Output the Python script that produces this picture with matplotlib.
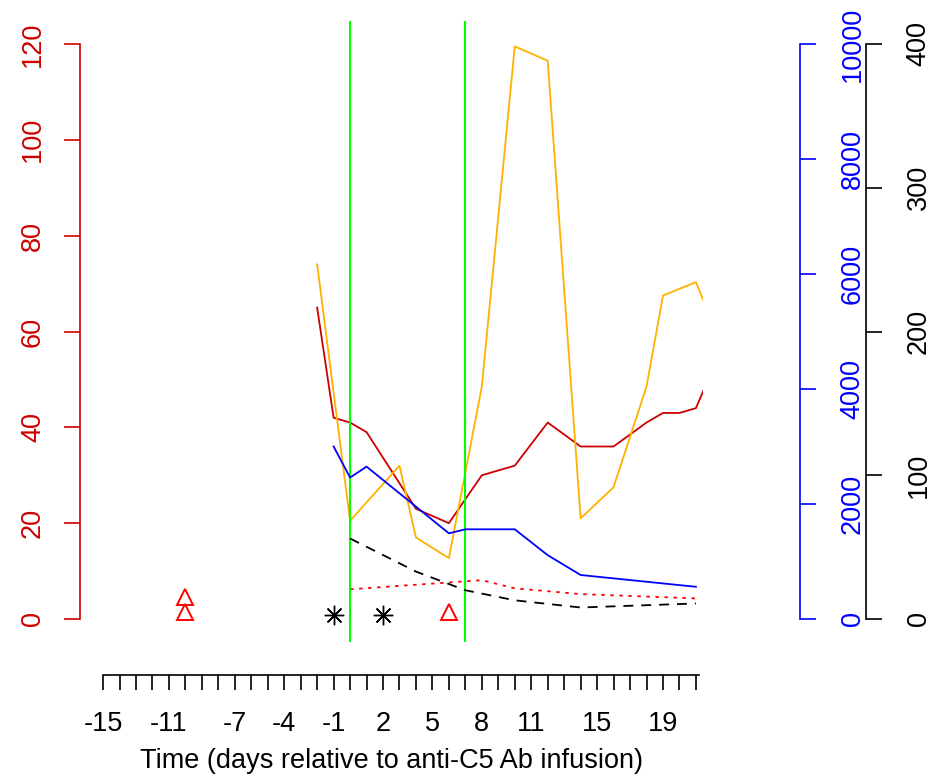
import matplotlib
matplotlib.use("Agg")
import matplotlib.pyplot as plt

plt.rcParams['font.family'] = ['Liberation Sans', 'DejaVu Sans']
FS = 19.5

# ---- data ----
# dark red series, left axis
red_days = [-2, -1, 0, 1, 4, 6, 8, 10, 12, 14, 16, 18, 19, 20, 21, 22]
red_vals = [65, 42, 41, 39, 23, 20, 30, 32, 41, 36, 36, 41, 43, 43, 44, 52]

# orange series, left axis
orange_days = [-2, 0, 3, 4, 6, 8, 10, 12, 14, 16, 18, 19, 21, 22]
orange_vals = [74, 20.5, 32, 17, 12.7, 48.5, 119.5, 116.5, 21, 27.5, 48.5, 67.5, 70.3, 62]

# red dotted series, left axis
dot_days = [0, 8, 10, 14, 21]
dot_vals = [6.2, 8.1, 6.4, 5.2, 4.3]

# blue series, blue axis
blue_days = [-1, 0, 1, 6, 7, 10, 12, 14, 21]
blue_vals = [3000, 2460, 2650, 1490, 1560, 1560, 1110, 765, 560]

# black dashed series, black axis
dash_days = [0, 4, 7, 10, 14, 21]
dash_vals = [56, 33, 20, 13, 8, 10.8]

# point markers, left axis
tri_days = [-10, -10, 6]
tri_vals = [4.6, 1.5, 1.5]
star_days = [-1, 2]
star_vals = [0.8, 0.8]

# treatment markers
vline_days = [0, 7]

tick_days = list(range(-15, 22))
shown_labels = [-15, -11, -7, -4, -1, 2, 5, 8, 11, 15, 19]

# ---- figure ----
W, H = 937, 774
fig = plt.figure(figsize=(W / 100, H / 100), dpi=100)
L, R, T, B = 80, 703, 21, 642
ax = fig.add_axes([L / W, 1 - B / H, (R - L) / W, (B - T) / H])
px = 0.72  # points per pixel at 100 dpi

ax.set_xlim(-16.4, 21.43)
ax.set_ylim(-4.8, 124.8)

lw = 1.3
ax.plot(red_days, red_vals, color='#CD0000', lw=lw)
ax.plot(orange_days, orange_vals, color='#FFB000', lw=lw)
ax.plot(dot_days, dot_vals, color='#FF0000', lw=lw, linestyle=(0, (1.9, 3.1)))
for d in vline_days:
    ax.axvline(d, color='#00FF00', lw=1.5)
ax.plot(tri_days, tri_vals, linestyle='none', marker='^', markersize=12,
        markerfacecolor='none', markeredgecolor='#FF0000', markeredgewidth=1.4)
ax.plot(star_days, star_vals, linestyle='none', marker=(8, 2, 0), markersize=14,
        color='black', markeredgewidth=1.0)

# blue axis
axb = ax.twinx()
axb.set_ylim(-400, 10400)
axb.set_xlim(ax.get_xlim())
axb.plot(blue_days, blue_vals, color='#0000FF', lw=lw)

# black axis
axk = ax.twinx()
axk.set_ylim(-16, 416)
axk.set_xlim(ax.get_xlim())
axk.plot(dash_days, dash_vals, color='black', lw=lw, linestyle=(0, (5.5, 4.4)))

for a in (ax, axb, axk):
    a.patch.set_visible(False)
    for s in a.spines.values():
        s.set_visible(False)

# left axis (dark red)
ax.spines['left'].set_visible(True)
ax.spines['left'].set_bounds(0, 120)
ax.spines['left'].set_color('#CD0000')
ax.spines['left'].set_linewidth(1.2)
ax.set_yticks(range(0, 121, 20))
ax.tick_params(axis='y', colors='#CD0000', direction='out', length=16 * px,
               width=1.2, pad=13, labelsize=FS, labelrotation=90)
for t in ax.get_yticklabels():
    t.set_va('center')

# bottom axis
ax.spines['bottom'].set_visible(True)
ax.spines['bottom'].set_position(('outward', 33 * px))
ax.spines['bottom'].set_bounds(-15, 21.2)
ax.spines['bottom'].set_linewidth(1.2)
ax.set_xticks(tick_days)
ax.set_xticklabels([str(d) if d in shown_labels else '' for d in tick_days])
ax.tick_params(axis='x', direction='out', length=15 * px, width=1.2, pad=15,
               labelsize=FS)
ax.set_xlabel('Time (days relative to anti-C5 Ab infusion)', fontsize=FS, labelpad=8)

# blue right axis
axb.spines['right'].set_visible(True)
axb.spines['right'].set_position(('outward', 97 * px))
axb.spines['right'].set_bounds(0, 10000)
axb.spines['right'].set_color('#0000FF')
axb.spines['right'].set_linewidth(1.2)
axb.set_yticks(range(0, 10001, 2000))
axb.tick_params(axis='y', colors='#0000FF', direction='out', length=16 * px,
                width=1.2, pad=17, labelsize=FS, labelrotation=90)
for t in axb.get_yticklabels():
    t.set_va('center')

# black right axis
axk.spines['right'].set_visible(True)
axk.spines['right'].set_position(('outward', 163 * px))
axk.spines['right'].set_bounds(0, 400)
axk.spines['right'].set_linewidth(1.2)
axk.set_yticks(range(0, 401, 100))
axk.tick_params(axis='y', direction='out', length=16 * px, width=1.2, pad=17,
                labelsize=FS, labelrotation=90)
for t in axk.get_yticklabels():
    t.set_va('center')

fig.savefig('out.png', dpi=100)
